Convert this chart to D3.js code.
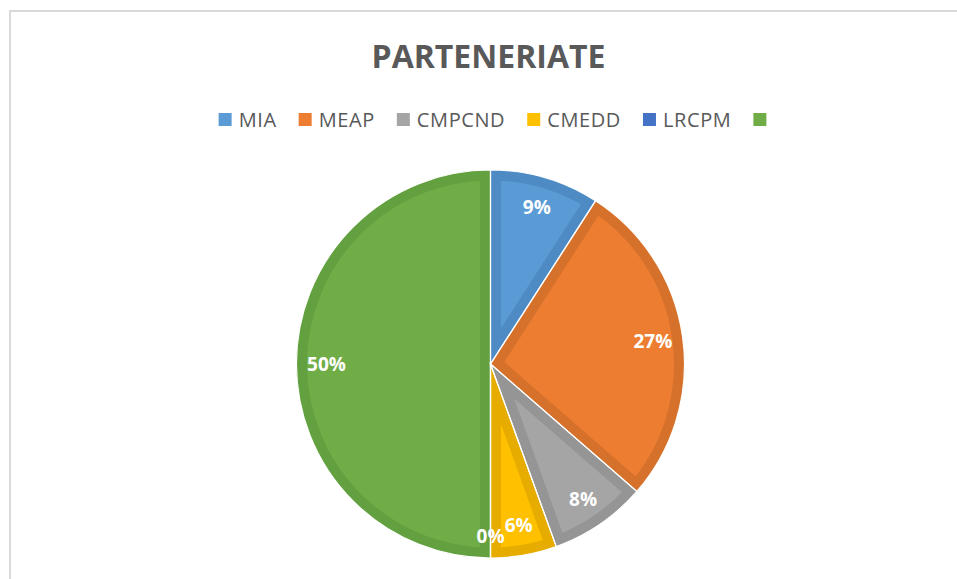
<!DOCTYPE html>
<html>
<head>
<meta charset="utf-8">
<script src="https://cdnjs.cloudflare.com/ajax/libs/d3/7.8.5/d3.min.js"></script>
<style>
  body { margin: 0; background: #fff; }
  svg { display: block; }
</style>
</head>
<body>
<div id="chart"></div>
<script>
// data (percent of total)
var categories = ["MIA", "MEAP", "CMPCND", "CMEDD", "LRCPM", ""];
var values = [9.1, 27.3, 8.1, 5.5, 0, 50];
var fills = ["#5b9bd5", "#ed7d31", "#a5a5a5", "#ffc000", "#4472c4", "#70ad47"];
var borders = ["#4e8ac4", "#d6712b", "#959595", "#e6ad00", "#3a64ad", "#63a03f"];
var title = "PARTENERIATE";

var W = 957, H = 579;
var cx = 490.5, cy = 364, R = 194;

var svg = d3.select("#chart").append("svg")
  .attr("width", W).attr("height", H);

// chart area frame (runs off right and bottom)
svg.append("rect")
  .attr("x", 10).attr("y", 11)
  .attr("width", W + 20).attr("height", H + 20)
  .attr("fill", "none")
  .attr("stroke", "#d9d9d9")
  .attr("stroke-width", 2);

svg.append("text")
  .attr("x", cx - 2).attr("y", 68)
  .attr("text-anchor", "middle")
  .attr("font-family", "'Open Sans', sans-serif")
  .attr("font-weight", "bold")
  .attr("font-size", 32)
  .attr("fill", "#595959")
  .text(title);

// legend
var legend = svg.append("g");
var lx = 0;
categories.forEach(function(c, i){
  var item = legend.append("g").attr("transform", "translate(" + lx + ",0)");
  item.append("rect")
    .attr("x", 0).attr("y", -6.5)
    .attr("width", 13).attr("height", 13)
    .attr("fill", fills[i]);
  var t = item.append("text")
    .attr("x", 20).attr("y", 7)
    .attr("font-family", "'Open Sans', sans-serif")
    .attr("font-size", 20)
    .attr("letter-spacing", 0.6)
    .attr("fill", "#595959")
    .text(c);
  var w = c ? t.node().getComputedTextLength() : 0;
  lx += 20 + w + 22;
});
var legendW = lx - 22 - 7;
legend.attr("transform", "translate(" + (492.5 - legendW / 2) + ",119.5)");

// pie
var pie = d3.pie().sort(null).value(function(d){ return d; });
var arcs = pie(values);
var arc = d3.arc().innerRadius(0).outerRadius(R);
var labelArc = d3.arc().innerRadius(164).outerRadius(164);

var g = svg.append("g").attr("transform", "translate(" + cx + "," + cy + ")");
var defs = svg.append("defs");

arcs.forEach(function(a, i){
  defs.append("clipPath").attr("id", "clip" + i)
    .append("path").attr("d", arc(a));
});

g.selectAll("path.slice")
  .data(arcs)
  .enter()
  .append("path")
  .attr("class", "slice")
  .attr("d", arc)
  .attr("clip-path", function(d, i){ return "url(#clip" + i + ")"; })
  .attr("fill", function(d, i){ return fills[i]; })
  .attr("stroke", function(d, i){ return borders[i]; })
  .attr("stroke-width", 21)
  .attr("stroke-linejoin", "miter");

g.selectAll("path.sep")
  .data(arcs)
  .enter()
  .append("path")
  .attr("class", "sep")
  .attr("d", arc)
  .attr("fill", "none")
  .attr("stroke", "#fff")
  .attr("stroke-width", 1.2);

g.selectAll("text.lbl")
  .data(arcs)
  .enter()
  .append("text")
  .attr("class", "lbl")
  .attr("transform", function(d){
    var p = labelArc.centroid(d);
    // the empty slice's label sits a little lower in the original
    if (d.data === 0) p[1] += 8;
    return "translate(" + p[0] + "," + p[1] + ")";
  })
  .attr("dy", "0.36em")
  .attr("text-anchor", "middle")
  .attr("font-family", "'Open Sans', sans-serif")
  .attr("font-weight", "bold")
  .attr("font-size", 19)
  .attr("fill", "#fff")
  .text(function(d){ return Math.round(d.data) + "%"; });
</script>
</body>
</html>
